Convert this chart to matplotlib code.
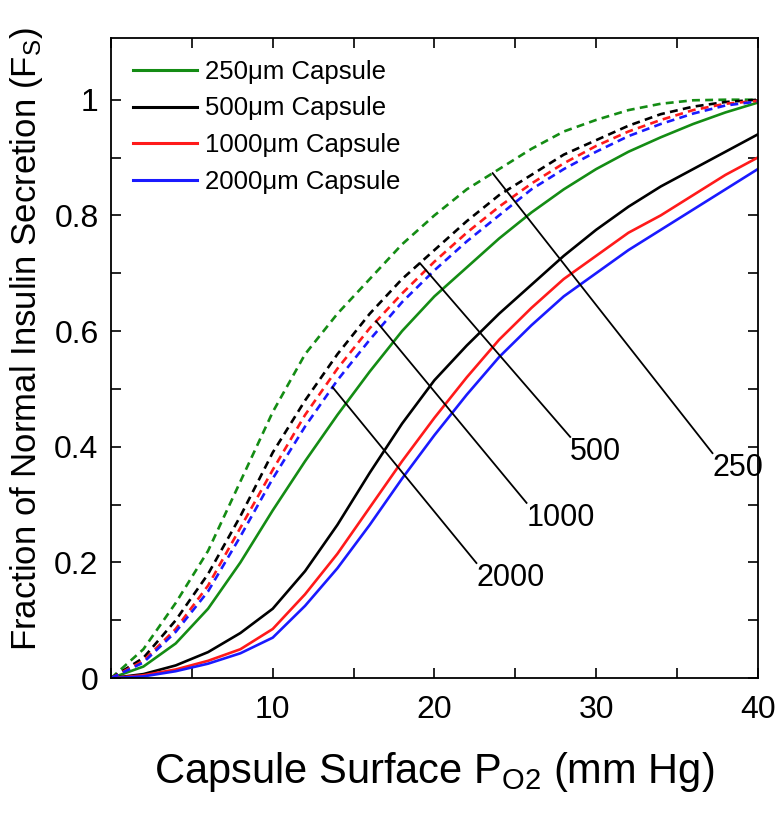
import numpy as np
import matplotlib
matplotlib.use("Agg")
import matplotlib.pyplot as plt
from matplotlib.ticker import FixedLocator, FixedFormatter

plt.rcParams['font.family'] = ['Liberation Sans', 'DejaVu Sans']
plt.rcParams['mathtext.fontset'] = 'custom'
plt.rcParams['mathtext.rm'] = 'Liberation Sans'
plt.rcParams['mathtext.it'] = 'Liberation Sans'

# ---- data ----
po2 = [0, 2, 4, 6, 8, 10, 12, 14, 16, 18, 20, 22, 24, 26, 28, 30, 32, 34, 36, 38, 40]

solid_250 = [0, 0.02, 0.06, 0.12, 0.20, 0.29, 0.375, 0.455, 0.53, 0.60, 0.66, 0.71, 0.76,
             0.805, 0.845, 0.88, 0.91, 0.935, 0.958, 0.978, 0.995]
solid_500 = [0, 0.007, 0.022, 0.045, 0.078, 0.12, 0.185, 0.265, 0.355, 0.44, 0.515, 0.575,
             0.63, 0.68, 0.73, 0.775, 0.815, 0.85, 0.88, 0.91, 0.94]
solid_1000 = [0, 0.005, 0.015, 0.03, 0.05, 0.085, 0.145, 0.215, 0.295, 0.375, 0.45, 0.52,
              0.585, 0.64, 0.69, 0.73, 0.77, 0.80, 0.835, 0.87, 0.90]
solid_2000 = [0, 0.003, 0.012, 0.025, 0.043, 0.07, 0.125, 0.19, 0.265, 0.345, 0.42, 0.49,
              0.555, 0.61, 0.66, 0.70, 0.74, 0.775, 0.81, 0.845, 0.88]

dash_250 = [0, 0.05, 0.13, 0.22, 0.34, 0.46, 0.56, 0.63, 0.69, 0.75, 0.80, 0.845, 0.88,
            0.915, 0.945, 0.965, 0.982, 0.993, 0.999, 1.0, 1.0]
dash_500 = [0, 0.035, 0.10, 0.18, 0.28, 0.39, 0.48, 0.56, 0.63, 0.69, 0.74, 0.79, 0.835,
            0.87, 0.905, 0.93, 0.955, 0.975, 0.988, 0.996, 1.0]
dash_1000 = [0, 0.03, 0.085, 0.16, 0.26, 0.36, 0.455, 0.535, 0.605, 0.665, 0.72, 0.77,
             0.815, 0.855, 0.89, 0.92, 0.945, 0.965, 0.982, 0.993, 0.998]
dash_2000 = [0, 0.027, 0.08, 0.15, 0.245, 0.345, 0.435, 0.515, 0.585, 0.65, 0.705, 0.755,
             0.80, 0.845, 0.88, 0.91, 0.937, 0.958, 0.976, 0.99, 0.997]

sizes = ['250', '500', '1000', '2000']
legend_labels = ['250\u03bcm Capsule', '500\u03bcm Capsule', '1000\u03bcm Capsule', '2000\u03bcm Capsule']
colors = ['#148c14', '#000000', '#ff1a1a', '#1a1aff']

# annotation: x where leader touches dashed curve, and label (top-left) position
leader_x = [23.6, 19.1, 16.4, 13.7]
label_pos = [(37.2, 0.389), (28.4, 0.417), (25.7, 0.303), (22.6, 0.199)]

x_ticks = [0, 5, 10, 15, 20, 25, 30, 35, 40]
x_ticklabels = ['', '', '10', '', '20', '', '30', '', '40']
y_ticks = [0, 0.1, 0.2, 0.3, 0.4, 0.5, 0.6, 0.7, 0.8, 0.9, 1.0]
y_ticklabels = ['0', '', '0.2', '', '0.4', '', '0.6', '', '0.8', '', '1']

# ---- figure ----
fig = plt.figure(figsize=(7.82, 8.22), dpi=100)
ax = fig.add_axes([0.142, 0.175, 0.827, 0.779])

solids = [solid_250, solid_500, solid_1000, solid_2000]
dashes = [dash_250, dash_500, dash_1000, dash_2000]

for s, c, lab in zip(solids, colors, legend_labels):
    ax.plot(po2, s, color=c, lw=1.9, label=lab)
for d, c in zip(dashes, colors):
    ax.plot(po2, d, color=c, lw=1.9, ls=(0, (3.0, 2.0)))

for d, lx, (tx, ty), name in zip(dashes, leader_x, label_pos, sizes):
    ly = float(np.interp(lx, po2, d))
    ax.plot([lx, tx], [ly, ty], color='black', lw=1.3)
    ax.text(tx, ty, name, ha='left', va='top', fontsize=22)

ax.set_xlim(0, 40)
ax.set_ylim(0, 1.107)
ax.xaxis.set_major_locator(FixedLocator(x_ticks))
ax.xaxis.set_major_formatter(FixedFormatter(x_ticklabels))
ax.yaxis.set_major_locator(FixedLocator(y_ticks))
ax.yaxis.set_major_formatter(FixedFormatter(y_ticklabels))
ax.tick_params(direction='in', length=7, width=1.2, top=True, right=True, labelsize=23)
ax.tick_params(axis='x', pad=12)
ax.tick_params(axis='y', pad=9)
for sp in ax.spines.values():
    sp.set_linewidth(1.3)

ax.set_xlabel('Capsule Surface P$_{\\mathrm{O2}}$ (mm Hg)', fontsize=30, labelpad=18)
ax.set_ylabel('Fraction of Normal Insulin Secretion (F$_{\\mathrm{S}}$)', fontsize=25)
ax.yaxis.set_label_coords(-0.102, 0.53)

leg = ax.legend(loc='upper left', frameon=False, fontsize=18.5, handlelength=2.5,
                handletextpad=0.3, labelspacing=0.5, borderaxespad=0.45,
                bbox_to_anchor=(0.0, 1.0))
for line in leg.get_lines():
    line.set_linewidth(2.2)

fig.savefig('out.png', dpi=100)
